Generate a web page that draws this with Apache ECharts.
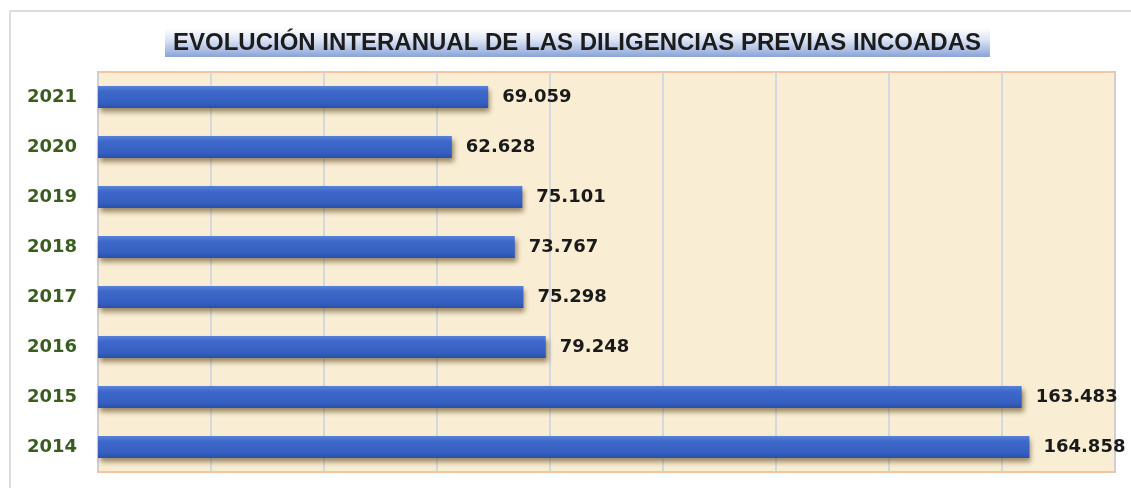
<!DOCTYPE html>
<html>
<head>
<meta charset="utf-8">
<script src="https://cdn.jsdelivr.net/npm/echarts@6/dist/echarts.min.js"></script>
<style>
  html, body { margin: 0; padding: 0; background: #ffffff; }
</style>
</head>
<body>
<div id="main" style="width: 1131px; height: 488px"></div>
<script>
// datos (de abajo hacia arriba)
var years = ['2014', '2015', '2016', '2017', '2018', '2019', '2020', '2021'];
var diligencias = [164858, 163483, 79248, 75298, 73767, 75101, 62628, 69059];
var chartTitle = 'EVOLUCIÓN INTERANUAL DE LAS DILIGENCIAS PREVIAS INCOADAS';

function fmt(v) {
  return String(v).replace(/\B(?=(\d{3})+(?!\d))/g, '.');
}

var myChart = echarts.init(document.getElementById('main'));
var option = {
  backgroundColor: '#ffffff',
  animation: false,
  graphic: [
    // marco exterior
    { type: 'line', shape: { x1: 10, y1: 11, x2: 1131, y2: 11 }, style: { stroke: '#dcdcdc', lineWidth: 2 }, silent: true },
    { type: 'line', shape: { x1: 10, y1: 11, x2: 10, y2: 488 }, style: { stroke: '#dcdcdc', lineWidth: 2 }, silent: true },
    {
      type: 'rect',
      shape: { x: 165, y: 28, width: 825, height: 29 },
      style: {
        fill: new echarts.graphic.LinearGradient(0, 0, 0, 1, [
          { offset: 0, color: '#ffffff' },
          { offset: 0.4, color: '#dde5f5' },
          { offset: 1, color: '#8aa3d7' }
        ])
      },
      silent: true
    },
    {
      type: 'text',
      x: 577,
      y: 43,
      style: {
        text: chartTitle,
        textAlign: 'center',
        textVerticalAlign: 'middle',
        fontFamily: 'Liberation Sans',
        fontWeight: 'bold',
        fontSize: 24,
        fill: '#1c1c1c'
      },
      silent: true
    }
  ],
  grid: {
    left: 98,
    right: 16,
    top: 72,
    bottom: 16,
    show: true,
    backgroundColor: '#f9edd3',
    borderColor: '#f4c3a0',
    borderWidth: 2
  },
  xAxis: {
    type: 'value',
    min: 0,
    max: 180000,
    interval: 20000,
    axisLine: { show: false },
    axisTick: { show: false },
    axisLabel: { show: false },
    splitLine: { lineStyle: { color: '#c9d0e0', width: 1.5 } }
  },
  yAxis: {
    type: 'category',
    data: years,
    axisLine: { show: false },
    axisTick: { show: false },
    axisLabel: {
      margin: 21,
      color: '#3a5d1f',
      fontFamily: 'DejaVu Sans',
      fontWeight: 'bold',
      fontSize: 18
    }
  },
  series: [
    {
      type: 'bar',
      data: diligencias,
      barWidth: 22,
      itemStyle: {
        color: new echarts.graphic.LinearGradient(0, 0, 0, 1, [
          { offset: 0, color: '#5a82d8' },
          { offset: 0.25, color: '#3e69cb' },
          { offset: 0.75, color: '#3560c2' },
          { offset: 1, color: '#2a50aa' }
        ]),
        shadowColor: 'rgba(90, 70, 30, 0.6)',
        shadowBlur: 5,
        shadowOffsetX: 2,
        shadowOffsetY: 4
      },
      label: {
        show: true,
        position: 'right',
        distance: 14,
        formatter: function (p) { return fmt(p.value); },
        color: '#1a1a1a',
        fontFamily: 'DejaVu Sans',
        fontWeight: 'bold',
        fontSize: 18
      }
    }
  ]
};
option && myChart.setOption(option);
</script>
</body>
</html>
